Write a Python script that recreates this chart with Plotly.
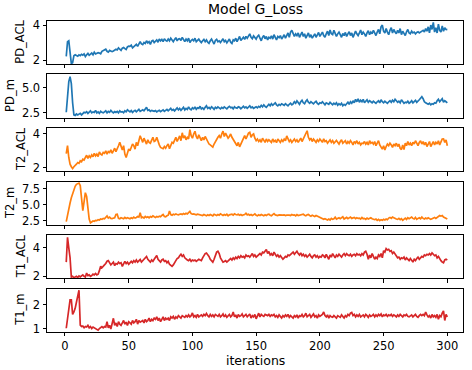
import plotly.graph_objects as go

iterations = list(range(1, 301))

pd_acl = [
    2.21, 3.05, 3.1, 2.2, 1.8, 1.85, 2.25, 2.3, 2.28, 2.22,
    2.3, 2.25, 2.33, 2.28, 2.35, 2.2, 2.3, 2.38, 2.27, 2.32,
    2.4, 2.3, 2.45, 2.35, 2.38, 2.42, 2.4, 2.36, 2.5, 2.55,
    2.58, 2.62, 2.5, 2.45, 2.55, 2.5, 2.48, 2.52, 2.6, 2.62,
    2.58, 2.7, 2.62, 2.55, 2.68, 2.72, 2.65, 2.6, 2.75, 2.8,
    2.78, 2.85, 2.7, 2.75, 2.82, 2.9, 2.78, 2.95, 3.05, 2.92,
    2.88, 3.0, 2.95, 3.1, 2.98, 3.05, 2.9, 3.08, 3.12, 3.0,
    3.05, 3.15, 3.02, 3.2, 3.1, 3.18, 3.05, 3.22, 3.12, 3.08,
    3.2, 3.1, 3.25, 3.15, 3.05, 3.18, 3.28, 3.1, 3.2, 3.22,
    3.12, 3.3, 3.15, 3.05, 3.2, 3.1, 3.25, 3.0, 3.12, 3.18,
    3.1, 3.25, 3.05, 3.15, 3.2, 3.08, 3.0, 3.1, 3.18, 3.05,
    3.15, 3.02, 2.95, 3.1, 3.2, 3.05, 2.92, 3.12, 3.18, 3.05,
    3.1, 3.0, 3.15, 3.22, 3.05, 3.12, 2.98, 3.1, 3.2, 3.02,
    2.95, 3.15, 3.1, 3.25, 3.05, 3.2, 3.35, 3.12, 3.22, 3.3,
    3.18, 3.35, 3.25, 3.4, 3.5, 3.3, 3.22, 3.38, 3.28, 3.2,
    3.35, 3.42, 3.25, 3.1, 3.3, 3.4, 3.22, 3.35, 3.15, 3.3,
    3.25, 3.38, 3.2, 3.45, 3.3, 3.15, 3.35, 3.28, 3.4, 3.2,
    3.32, 3.45, 3.25, 3.4, 3.55, 3.3, 3.6, 3.7, 3.45, 3.35,
    3.5, 3.4, 3.55, 3.3, 3.45, 3.6, 3.35, 3.5, 3.25, 3.4,
    3.55, 3.3, 3.45, 3.25, 3.35, 3.5, 3.3, 3.42, 3.58, 3.35,
    3.45, 3.6, 3.4, 3.3, 3.5, 3.65, 3.4, 3.72, 3.5, 3.45,
    3.7, 3.55, 3.35, 3.5, 3.6, 3.45, 3.3, 3.52, 3.4, 3.58,
    3.35, 3.5, 3.62, 3.4, 3.55, 3.3, 3.48, 3.65, 3.5, 3.4,
    3.55, 3.72, 3.45, 3.6, 3.5, 3.35, 3.55, 3.68, 3.45, 3.6,
    3.5, 3.7, 3.55, 3.4, 3.6, 3.75, 3.5, 3.9, 4.0, 3.65,
    3.55, 3.8, 3.6, 3.45, 3.7, 3.85, 3.55, 3.75, 3.6, 3.5,
    3.7, 3.55, 3.8, 3.45, 3.65, 3.5, 3.4, 3.62, 3.75, 3.55,
    3.5, 3.65, 3.55, 3.6, 3.5, 3.58, 3.62, 3.55, 3.6, 3.65,
    3.7, 3.6, 3.8, 3.65, 3.9, 3.55, 4.0, 3.75, 4.15, 3.6,
    3.85, 3.55, 4.05, 3.7, 3.6, 3.95, 3.65, 3.85, 3.75, 3.74,
]

pd_m = [
    2.56, 4.0, 5.6, 6.1, 5.4, 3.5, 2.3, 2.25, 2.4, 2.3,
    2.35, 2.45, 2.3, 2.4, 2.55, 2.5, 2.62, 2.45, 2.55, 2.7,
    2.5, 2.6, 2.55, 2.75, 2.5, 2.6, 2.45, 2.65, 2.55, 2.5,
    2.6, 2.7, 2.5, 2.65, 2.55, 2.75, 2.6, 2.5, 2.62, 2.55,
    2.65, 2.5, 2.7, 2.58, 2.62, 2.52, 2.7, 2.6, 2.8, 2.65,
    2.6, 2.72, 2.55, 2.68, 2.75, 2.6, 2.7, 2.85, 2.65, 2.72,
    2.8, 2.7, 2.95, 3.05, 2.75, 2.8, 2.65, 2.75, 2.7, 2.65,
    2.72, 2.6, 2.68, 2.75, 2.62, 2.7, 2.8, 2.65, 2.75, 2.85,
    2.7, 2.8, 2.95, 2.75, 2.85, 2.7, 2.9, 3.0, 2.8, 2.95,
    2.75, 2.9, 3.05, 2.8, 2.95, 2.85, 3.1, 2.9, 2.8, 3.0,
    2.9, 3.1, 2.85, 3.0, 2.95, 3.15, 2.9, 3.0, 2.85, 3.05,
    3.2, 2.95, 3.05, 2.9, 3.1, 3.0, 2.85, 3.05, 2.95, 3.1,
    3.0, 2.9, 3.05, 2.95, 3.1, 3.0, 2.9, 3.05, 3.15, 3.0,
    3.05, 2.9, 3.1, 3.0, 2.95, 3.1, 3.05, 2.9, 3.0, 3.15,
    3.0, 3.1, 2.95, 3.05, 3.2, 3.0, 3.1, 2.95, 3.05, 3.1,
    3.0, 3.15, 3.05, 3.25, 3.1, 3.3, 3.15, 3.05, 3.2, 3.35,
    3.2, 3.4, 3.25, 3.35, 3.5, 3.3, 3.2, 3.35, 3.25, 3.4,
    3.3, 3.25, 3.4, 3.3, 3.2, 3.35, 3.45, 3.3, 3.4, 3.6,
    3.45, 3.7, 3.5, 3.35, 3.6, 3.75, 3.5, 3.4, 3.65, 3.8,
    3.55, 3.45, 3.6, 3.5, 3.4, 3.55, 3.65, 3.45, 3.35, 3.5,
    3.45, 3.6, 3.4, 3.3, 3.5, 3.45, 3.35, 3.55, 3.4, 3.3,
    3.45, 3.35, 3.5, 3.25, 3.4, 3.3, 3.45, 3.2, 3.35, 3.25,
    3.4, 3.55, 3.35, 3.6, 3.45, 3.7, 3.5, 3.85, 3.6, 3.9,
    3.55, 3.75, 3.6, 3.85, 3.5, 3.65, 3.8, 3.55, 3.7, 3.6,
    3.5, 3.65, 3.55, 3.45, 3.6, 3.7, 3.5, 3.8, 3.6, 3.5,
    3.65, 3.55, 3.45, 3.6, 3.7, 3.55, 3.75, 3.6, 3.85, 3.7,
    3.55, 3.65, 3.5, 3.8, 3.6, 3.45, 3.55, 3.5, 3.65, 3.45,
    3.55, 3.7, 3.5, 3.6, 3.75, 3.55, 3.65, 3.8, 3.95, 4.1,
    3.9, 3.6, 3.5, 3.4, 3.35, 3.45, 3.3, 3.4, 3.35, 3.5,
    3.45, 3.7, 3.85, 3.6, 3.75, 3.9, 3.55, 3.7, 3.6, 3.5,
]

t2_acl = [
    2.83, 3.31, 2.6, 2.2, 2.05, 1.94, 2.05, 2.1, 2.2, 2.3,
    2.25, 2.4, 2.35, 2.5, 2.45, 2.6, 2.73, 2.55, 2.7, 2.6,
    2.75, 2.65, 2.85, 2.7, 2.8, 2.65, 2.93, 2.8, 2.75, 2.9,
    2.85, 3.0, 2.8, 2.95, 2.9, 3.05, 2.85, 3.0, 3.15, 2.95,
    3.1, 3.3, 3.5, 3.2, 3.05, 3.3, 2.8, 2.6, 2.9, 3.1,
    3.0, 3.2, 3.4, 3.3, 3.1, 3.5, 3.3, 3.6, 3.89, 3.7,
    3.5, 3.75, 3.6, 3.4, 3.65, 3.5, 3.45, 3.7, 3.8, 3.55,
    3.6, 3.8, 3.5, 3.35, 3.2, 3.15, 3.12, 3.25, 3.15, 3.3,
    3.4, 3.12, 3.35, 3.5, 3.45, 3.6, 3.8, 3.55, 3.7, 3.88,
    3.6, 4.07, 3.75, 3.9, 3.65, 3.8, 3.7, 4.26, 3.9, 3.75,
    4.0, 4.16, 3.85, 3.7, 3.95, 3.75, 3.6, 3.8, 3.65, 3.85,
    3.7, 3.55, 3.4, 3.35, 3.3, 3.22, 3.4, 3.55, 3.65, 3.8,
    3.9, 3.75, 4.0, 4.17, 3.85, 4.05, 3.9, 3.75, 3.85, 4.0,
    3.8, 3.65, 3.55, 3.4, 3.3, 3.5, 3.23, 3.4, 3.6, 3.75,
    3.9, 3.7, 3.85, 4.05, 4.1, 3.8, 3.95, 4.0, 3.75, 3.6,
    3.7, 3.55, 3.65, 3.5, 3.75, 3.6, 3.5, 3.7, 3.55, 3.65,
    3.6, 3.5, 3.7, 3.55, 3.62, 3.48, 3.7, 3.58, 3.5, 3.65,
    3.55, 3.7, 3.6, 3.88, 3.7, 3.55, 3.65, 3.5, 3.6, 3.7,
    3.55, 3.65, 3.5, 3.6, 3.75, 3.55, 3.7, 3.9, 4.08, 4.19,
    3.8, 3.65, 3.75, 3.55, 3.7, 3.6, 3.5, 3.65, 3.55, 3.7,
    3.6, 3.5, 3.71, 3.55, 3.6, 3.45, 3.55, 3.65, 3.5, 3.6,
    3.45, 3.55, 3.62, 3.5, 3.4, 3.55, 3.65, 3.45, 3.5, 3.6,
    3.4, 3.55, 3.45, 3.6, 3.5, 3.35, 3.55, 3.45, 3.6, 3.4,
    3.5, 3.35, 3.45, 3.43, 3.55, 3.4, 3.5, 3.35, 3.6, 3.45,
    3.5, 3.4, 3.55, 3.3, 3.45, 3.6, 3.35, 3.2, 3.1, 3.3,
    3.05, 3.25, 3.4, 3.3, 3.45, 3.35, 3.2, 3.4, 3.3, 3.45,
    3.25, 3.4, 3.15, 3.07, 3.35, 3.07, 3.45, 3.3, 3.55, 3.35,
    3.45, 3.3, 3.5, 3.4, 3.6, 3.45, 3.3, 3.5, 3.6, 3.4,
    3.55, 3.35, 3.5, 3.25, 3.45, 3.55, 3.25, 3.4, 3.55, 3.35,
    3.5, 3.4, 3.6, 3.35, 3.55, 3.7, 3.71, 3.5, 3.65, 3.3,
]

t2_m = [
    2.4, 3.6, 4.5, 5.3, 6.1, 6.8, 7.4, 7.9, 8.2, 8.35,
    8.4, 8.0, 6.0, 4.1, 5.5, 6.9, 6.3, 4.5, 2.8, 2.2,
    2.35, 2.5, 2.45, 2.6, 2.55, 2.7, 2.65, 2.8, 2.75, 2.9,
    2.85, 3.0, 3.28, 2.95, 3.1, 2.9, 2.85, 2.95, 3.0, 3.5,
    3.55, 2.9, 2.85, 3.0, 2.95, 2.85, 3.05, 2.9, 3.0, 2.95,
    2.85, 3.0, 2.9, 3.1, 2.95, 3.05, 3.2, 3.1, 3.8, 3.0,
    3.1, 2.95, 3.2, 3.05, 3.15, 3.0, 3.2, 3.1, 3.3, 3.15,
    3.05, 3.2, 3.1, 3.25, 3.15, 3.35, 3.5, 3.2, 3.15, 3.3,
    3.4, 4.06, 3.5, 3.4, 3.55, 3.45, 3.6, 3.5, 3.45, 3.55,
    3.6, 3.5, 3.65, 3.55, 3.7, 3.6, 3.75, 4.0, 3.65, 3.55,
    3.6, 3.5, 3.45, 3.55, 3.5, 3.4, 3.45, 3.35, 3.5, 3.4,
    3.3, 3.45, 3.35, 3.5, 3.4, 3.3, 3.55, 3.45, 3.35, 3.5,
    3.4, 3.6, 3.45, 3.35, 3.5, 3.4, 3.55, 3.3, 3.45, 3.5,
    3.55, 3.4, 3.6, 3.5, 3.45, 3.55, 3.4, 3.5, 3.35, 3.45,
    3.5, 3.7, 3.45, 3.55, 3.4, 3.5, 3.35, 3.45, 3.6, 3.4,
    3.3, 3.45, 3.35, 3.5, 3.4, 3.3, 3.45, 3.35, 3.5, 3.55,
    3.4, 3.3, 3.5, 3.65, 3.45, 3.4, 3.35, 3.45, 3.4, 3.35,
    3.4, 3.45, 3.35, 3.4, 3.45, 3.4, 3.35, 3.5, 3.4, 3.45,
    3.3, 3.5, 3.35, 3.4, 3.5, 3.45, 3.55, 3.4, 3.3, 3.45,
    3.5, 3.35, 3.25, 3.4, 3.3, 3.2, 3.35, 3.25, 3.1, 3.0,
    2.9, 2.8, 2.75, 2.85, 2.7, 2.65, 2.8, 2.65, 2.9, 2.75,
    2.85, 3.1, 2.8, 2.9, 3.0, 2.85, 2.95, 3.15, 2.8, 2.95,
    3.05, 2.85, 3.0, 3.1, 2.9, 2.95, 3.05, 2.85, 3.0, 2.9,
    2.95, 2.8, 3.05, 2.85, 2.9, 2.75, 2.95, 2.8, 2.9, 3.0,
    2.85, 2.75, 2.7, 2.8, 2.6, 2.75, 2.55, 2.7, 2.6, 2.75,
    2.65, 2.8, 2.7, 2.95, 3.05, 2.9, 3.1, 3.0, 2.85, 2.8,
    2.75, 2.9, 2.7, 2.85, 2.6, 2.8, 2.95, 2.75, 3.0, 2.85,
    2.95, 3.1, 2.9, 2.8, 3.05, 2.75, 2.9, 3.0, 2.85, 3.1,
    2.9, 2.8, 2.95, 2.85, 3.0, 2.9, 2.75, 2.85, 2.95, 3.05,
    2.9, 3.1, 3.2, 3.35, 3.25, 3.35, 3.1, 3.0, 2.85, 2.8,
]

t1_acl = [
    3.0, 4.75, 4.0, 3.3, 1.95, 2.0, 1.9, 1.95, 2.0, 1.92,
    2.02, 1.95, 2.05, 2.1, 2.0, 1.95, 2.23, 2.05, 2.1, 2.0,
    2.05, 2.15, 2.1, 2.2, 2.1, 2.15, 2.4, 2.7, 2.6, 2.75,
    2.8, 2.9, 3.06, 3.1, 2.95, 2.8, 2.9, 3.0, 2.75, 2.9,
    2.85, 3.0, 2.9, 2.95, 2.7, 2.95, 3.05, 2.9, 3.0, 2.85,
    2.95, 3.05, 2.95, 3.1, 3.0, 3.15, 3.0, 3.1, 3.18, 3.0,
    3.1, 3.2, 3.35, 3.4, 3.2, 3.1, 3.0, 3.15, 3.05, 3.2,
    3.3, 3.47, 3.2, 3.1, 3.0, 3.15, 3.2, 3.05, 3.1, 2.95,
    3.05, 2.85, 2.75, 2.7, 2.8, 3.0, 3.1, 3.25, 3.3, 3.45,
    3.55, 3.4, 3.5, 3.3, 3.2, 3.15, 3.1, 3.2, 3.05, 3.15,
    3.1, 3.15, 3.05, 3.1, 3.2, 3.15, 3.1, 3.3, 3.5, 3.6,
    3.64, 3.55, 3.4, 3.2, 3.1, 3.0, 3.2, 3.5, 3.7, 3.76,
    3.6, 3.3, 3.1, 3.0, 3.05, 3.1, 3.0, 3.1, 3.2, 3.25,
    3.15, 3.3, 3.2, 3.35, 3.25, 3.4, 3.3, 3.45, 3.35, 3.4,
    3.3, 3.5, 3.4, 3.45, 3.35, 3.5, 3.6, 3.4, 3.5, 3.35,
    3.45, 3.5, 3.6, 3.5, 3.7, 3.65, 3.8, 3.88, 3.6, 3.75,
    3.5, 3.6, 3.45, 3.7, 3.55, 3.4, 3.5, 3.35, 3.45, 3.3,
    3.2, 3.3, 3.4, 3.35, 3.5, 3.45, 3.55, 3.6, 3.7, 3.55,
    3.7, 3.76, 3.6, 3.5, 3.65, 3.45, 3.55, 3.4, 3.5, 3.35,
    3.45, 3.55, 3.4, 3.3, 3.45, 3.5, 3.35, 3.45, 3.3, 3.4,
    3.35, 3.5, 3.45, 3.3, 3.55, 3.4, 3.2, 3.5, 3.35, 3.6,
    3.45, 3.3, 3.5, 3.4, 3.55, 3.45, 3.35, 3.5, 3.6, 3.45,
    3.6, 3.5, 3.45, 3.55, 3.4, 3.5, 3.55, 3.45, 3.6, 3.5,
    3.55, 3.45, 3.6, 3.5, 3.7, 3.76, 3.55, 3.2, 3.5, 3.3,
    3.6, 3.4, 3.2, 3.35, 3.25, 3.5, 3.4, 3.6, 3.3, 3.8,
    3.7, 3.95, 3.85, 3.9, 3.75, 3.8, 3.6, 3.7, 3.55, 3.4,
    3.3, 3.35, 3.2, 3.3, 3.25, 3.35, 3.15, 3.3, 3.2, 3.1,
    3.25, 3.15, 3.0, 3.2, 3.1, 3.25, 3.35, 3.2, 3.3, 3.4,
    3.35, 3.5, 3.45, 3.55, 3.5, 3.6, 3.5, 3.65, 3.55, 3.45,
    3.5, 3.3, 3.4, 3.2, 3.1, 3.0, 2.95, 3.15, 3.2, 3.15,
]

t1_m = [
    1.03, 1.5, 1.9, 2.2, 2.2, 1.6, 1.7, 1.85, 2.1, 2.4,
    2.6, 1.16, 1.1, 1.12, 1.05, 1.1, 1.08, 1.15, 1.05, 1.1,
    1.02, 1.08, 1.05, 1.0, 0.98, 0.95, 1.02, 1.05, 1.1, 1.05,
    1.1, 1.08, 1.3, 1.05, 1.15, 1.0, 1.2, 1.44, 1.15, 1.25,
    1.1, 1.3, 1.2, 1.15, 1.25, 1.35, 1.2, 1.28, 1.15, 1.3,
    1.25, 1.2, 1.35, 1.25, 1.3, 1.4, 1.2, 1.35, 1.28, 1.3,
    1.35, 1.25, 1.4, 1.3, 1.35, 1.45, 1.3, 1.4, 1.35, 1.45,
    1.4, 1.5, 1.35, 1.45, 1.3, 1.4, 1.5, 1.35, 1.45, 1.4,
    1.45, 1.35, 1.5, 1.45, 1.52, 1.4, 1.5, 1.45, 1.55, 1.5,
    1.45, 1.55, 1.5, 1.48, 1.55, 1.5, 1.58, 1.5, 1.55, 1.66,
    1.5, 1.55, 1.48, 1.6, 1.5, 1.55, 1.58, 1.52, 1.6, 1.55,
    1.64, 1.55, 1.5, 1.6, 1.52, 1.58, 1.5, 1.6, 1.55, 1.52,
    1.6, 1.5, 1.55, 1.62, 1.5, 1.58, 1.48, 1.55, 1.6, 1.5,
    1.55, 1.7, 1.5, 1.58, 1.45, 1.6, 1.52, 1.55, 1.62, 1.5,
    1.55, 1.6, 1.5, 1.58, 1.62, 1.45, 1.55, 1.5, 1.6, 1.42,
    1.55, 1.65, 1.5, 1.6, 1.55, 1.52, 1.6, 1.58, 1.55, 1.6,
    1.52, 1.58, 1.55, 1.6, 1.5, 1.55, 1.48, 1.58, 1.52, 1.45,
    1.55, 1.5, 1.58, 1.52, 1.6, 1.48, 1.55, 1.5, 1.45, 1.55,
    1.5, 1.58, 1.45, 1.55, 1.52, 1.6, 1.5, 1.55, 1.65, 1.5,
    1.55, 1.6, 1.48, 1.55, 1.62, 1.5, 1.55, 1.45, 1.58, 1.52,
    1.55, 1.6, 1.7, 1.55, 1.5, 1.58, 1.45, 1.55, 1.5, 1.48,
    1.55, 1.5, 1.45, 1.55, 1.52, 1.48, 1.58, 1.5, 1.45, 1.55,
    1.5, 1.6, 1.55, 1.65, 1.68, 1.55, 1.6, 1.5, 1.58, 1.52,
    1.6, 1.5, 1.55, 1.58, 1.5, 1.6, 1.55, 1.48, 1.58, 1.52,
    1.55, 1.6, 1.5, 1.58, 1.52, 1.6, 1.55, 1.62, 1.5, 1.58,
    1.55, 1.6, 1.52, 1.58, 1.55, 1.6, 1.52, 1.58, 1.55, 1.5,
    1.58, 1.52, 1.6, 1.55, 1.5, 1.58, 1.55, 1.6, 1.52, 1.5,
    1.55, 1.58, 1.5, 1.55, 1.6, 1.52, 1.48, 1.55, 1.6, 1.55,
    1.6, 1.55, 1.7, 1.58, 1.5, 1.55, 1.45, 1.6, 1.5, 1.55,
    1.48, 1.6, 1.4, 1.55, 1.5, 1.65, 1.75, 1.35, 1.6, 1.5,
]

panel_names = ["PD_ACL", "PD_m", "T2_ACL", "T2_m", "T1_ACL", "T1_m"]
panel_values = [pd_acl, pd_m, t2_acl, t2_m, t1_acl, t1_m]
panel_colors = ["#1f77b4", "#1f77b4", "#ff7f0e", "#ff7f0e", "#d62728", "#d62728"]
y_ranges = [[1.78, 4.25], [2.04, 6.33], [1.79, 4.36], [1.92, 8.64], [1.86, 4.9], [0.88, 2.66]]
y_tickvals = [[2, 4], [2.5, 5.0], [2, 4], [2.5, 5.0, 7.5], [2, 4], [1, 2]]
y_ticktext = [["2", "4"], ["2.5", "5.0"], ["2", "4"], ["2.5", "5.0", "7.5"], ["2", "4"], ["1", "2"]]
x_tickvals = [0, 50, 100, 150, 200, 250, 300]
x_ticktext = ["0", "50", "100", "150", "200", "250", "300"]
title_text = "Model G_Loss"
x_label = "iterations"

W, H = 472, 370
FONT = "DejaVu Sans"
TICK_SIZE = 11.5
left_px, right_px = 47, 463
top0, pitch, ph = 20.7, 53.6, 43.2
label_x_px = [20.5, 10, 20.5, 10, 20.5, 20.5]

fig = go.Figure()
annotations = []
for i in range(6):
    k = i + 1
    sfx = "" if k == 1 else str(k)
    fig.add_trace(go.Scatter(
        x=iterations, y=panel_values[i], mode="lines",
        line=dict(color=panel_colors[i], width=1.7),
        xaxis="x" + sfx, yaxis="y" + sfx, showlegend=False, hoverinfo="skip",
    ))
    top = top0 + i * pitch
    bot = top + ph
    dom = [1 - bot / H, 1 - top / H]
    fig.layout["xaxis" + sfx] = dict(
        domain=[left_px / W, right_px / W], anchor="y" + sfx, automargin=False,
        range=[-14.1, 312.3], tickvals=x_tickvals, ticktext=x_ticktext,
        showticklabels=(k == 6), ticks="outside", ticklen=3.5, tickwidth=1,
        tickcolor="black", showline=True, linecolor="black", linewidth=1,
        mirror=True, showgrid=False, zeroline=False,
        tickfont=dict(family=FONT, size=TICK_SIZE, color="black"),
    )
    fig.layout["yaxis" + sfx] = dict(
        domain=dom, anchor="x" + sfx, range=y_ranges[i], automargin=False,
        tickvals=y_tickvals[i], ticktext=y_ticktext[i],
        ticks="outside", ticklen=3.5, tickwidth=1, tickcolor="black",
        showline=True, linecolor="black", linewidth=1, mirror=True,
        showgrid=False, zeroline=False,
        tickfont=dict(family=FONT, size=TICK_SIZE, color="black"),
    )
    annotations.append(dict(
        text=panel_names[i], x=label_x_px[i] / W, y=(dom[0] + dom[1]) / 2,
        xref="paper", yref="paper", xanchor="center", yanchor="middle",
        textangle=-90, showarrow=False,
        font=dict(family=FONT, size=11.5, color="black"),
    ))

annotations.append(dict(
    text=title_text, x=(left_px + right_px) / 2 / W, y=1 - 9.5 / H,
    xref="paper", yref="paper", xanchor="center", yanchor="middle",
    showarrow=False, font=dict(family=FONT, size=14, color="black"),
))
annotations.append(dict(
    text=x_label, x=(left_px + right_px) / 2 / W, y=1 - 360 / H,
    xref="paper", yref="paper", xanchor="center", yanchor="middle",
    showarrow=False, font=dict(family=FONT, size=12.5, color="black"),
))

fig.update_layout(
    width=W, height=H, autosize=False,
    margin=dict(l=0, r=0, t=0, b=0),
    paper_bgcolor="white", plot_bgcolor="white",
    annotations=annotations, hovermode=False,
    font=dict(family=FONT, size=11.5, color="black"),
)

fig.write_html(
    "out.html",
    config={"displayModeBar": False, "staticPlot": True},
    post_script="document.body.style.margin='0';document.body.style.overflow='hidden';",
)
